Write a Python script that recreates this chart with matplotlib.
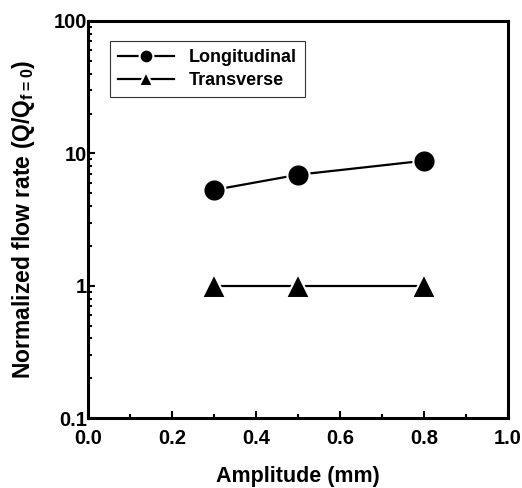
import matplotlib.pyplot as plt
from matplotlib.ticker import FixedLocator, FixedFormatter, MultipleLocator, LogLocator, NullFormatter

plt.rcParams['font.family'] = ['Liberation Sans', 'DejaVu Sans']
plt.rcParams['font.weight'] = 'bold'
plt.rcParams['mathtext.fontset'] = 'custom'
plt.rcParams['mathtext.bf'] = 'Liberation Sans:bold'
plt.rcParams['mathtext.rm'] = 'Liberation Sans:bold'
plt.rcParams['mathtext.default'] = 'bf'

# données
amplitude = [0.3, 0.5, 0.8]
longitudinal = [5.3, 6.9, 8.8]
transverse = [1.0, 1.0, 1.0]
yticks = [0.1, 1, 10, 100]
ytick_labels = ['0.1', '1', '10', '100']

fig = plt.figure(figsize=(5.22, 4.88), dpi=100)
ax = fig.add_axes([0.169, 0.143, 0.804, 0.814])

ax.plot(amplitude, longitudinal, '-o', color='black', lw=1.6, ms=16, mec='white', mew=1.5,
        label='Longitudinal')
ax.plot(amplitude, transverse, '-^', color='black', lw=1.6, ms=17, mec='white', mew=1.5,
        label='Transverse')

ax.set_yscale('log')
ax.set_xlim(0.0, 1.0)
ax.set_ylim(0.1, 100)
ax.yaxis.set_major_locator(FixedLocator(yticks))
ax.yaxis.set_major_formatter(FixedFormatter(ytick_labels))
ax.yaxis.set_minor_locator(LogLocator(base=10, subs=range(2, 10)))
ax.yaxis.set_minor_formatter(NullFormatter())
ax.xaxis.set_major_locator(MultipleLocator(0.2))
ax.xaxis.set_minor_locator(MultipleLocator(0.1))
ax.xaxis.set_major_formatter(plt.FuncFormatter(lambda v, p: f'{v:.1f}'))

ax.tick_params(which='both', direction='in', top=False, right=False, labelsize=14.5, width=1.5)
ax.tick_params(which='major', length=5)
ax.tick_params(which='minor', length=3)
ax.tick_params(axis='x', pad=8)
ax.tick_params(axis='y', pad=1)
for s in ax.spines.values():
    s.set_linewidth(2.2)

ax.set_xlabel('Amplitude (mm)', fontsize=15.5, fontweight='bold', labelpad=13)
ax.set_ylabel(r'Normalized flow rate (Q/Q$_{f=0}$)', fontsize=16.5, fontweight='bold', labelpad=12)

leg = ax.legend(loc='upper left', bbox_to_anchor=(0.052, 0.95), borderaxespad=0, fontsize=13,
                frameon=True, fancybox=False, edgecolor='black', markerscale=0.62,
                handlelength=3.1, borderpad=0.45, labelspacing=0.35, handletextpad=0.8)
leg.get_frame().set_linewidth(0.8)

fig.savefig('out.png', dpi=100)
